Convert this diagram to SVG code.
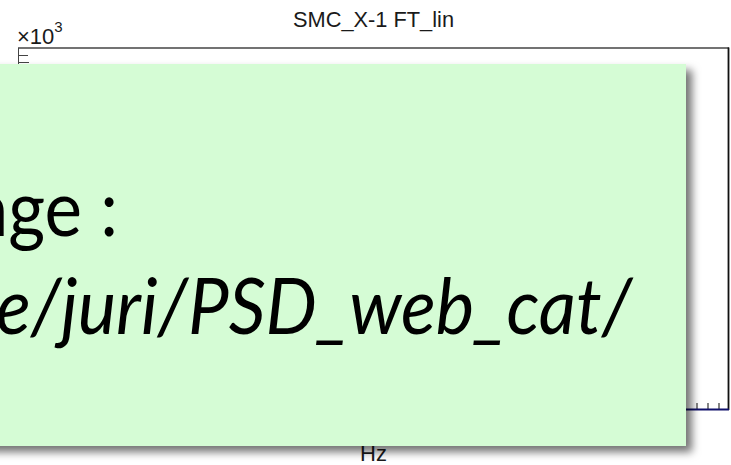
<svg xmlns="http://www.w3.org/2000/svg" width="731" height="465" viewBox="0 0 731 465">
  <style>
    .axis-label { font-family: "Liberation Sans", Arial, sans-serif; fill: #1a1a1a; }
    .callout-text { font-family: Lato, "Open Sans", "Liberation Sans", sans-serif; fill: #000; }
  </style>
  <defs>
    <filter id="shadow" x="-5%" y="-5%" width="115%" height="120%">
      <feDropShadow dx="6" dy="6" stdDeviation="4.5" flood-color="#000" flood-opacity="0.55"/>
    </filter>
  </defs>
  <rect width="731" height="465" fill="#fff"/>

  <!-- plot frame behind the callout -->
  <g id="plot">
    <text class="axis-label" x="373.5" y="27" font-size="21.8" text-anchor="middle">SMC_X-1 FT_lin</text>
    <text class="axis-label" x="17" y="44" font-size="22">×10<tspan font-size="15" dy="-12">3</tspan></text>
    <line x1="18" y1="48" x2="729" y2="48" stroke="#444" stroke-width="1.5"/>
    <line x1="728.5" y1="47.5" x2="728.5" y2="410" stroke="#111" stroke-width="1.8"/>
    <line x1="18.5" y1="48" x2="18.5" y2="66" stroke="#444" stroke-width="1"/>
    <line x1="18" y1="55.5" x2="28" y2="55.5" stroke="#444" stroke-width="1"/>
    <line x1="18" y1="62.5" x2="29" y2="62.5" stroke="#444" stroke-width="1"/>
    <g stroke="#333" stroke-width="1.2">
      <line x1="697" y1="403" x2="697" y2="409"/>
      <line x1="708" y1="403" x2="708" y2="409"/>
      <line x1="719" y1="403" x2="719" y2="409"/>
    </g>
    <line x1="680" y1="409.5" x2="729" y2="409.5" stroke="#10106a" stroke-width="2"/>
    <text class="axis-label" x="373.5" y="461" font-size="22" text-anchor="middle">Hz</text>
  </g>

  <!-- green callout with drop shadow -->
  <g id="callout">
    <rect x="-20" y="64" width="706" height="382" fill="#d5fcd5" filter="url(#shadow)"/>
    <text class="callout-text" x="-27" y="236" font-size="77" textLength="145" lengthAdjust="spacingAndGlyphs">age :</text>
    <text class="callout-text" x="-4" y="334" font-size="77" font-style="italic" textLength="636" lengthAdjust="spacingAndGlyphs">e/juri/PSD_web_cat/</text>
  </g>
</svg>
